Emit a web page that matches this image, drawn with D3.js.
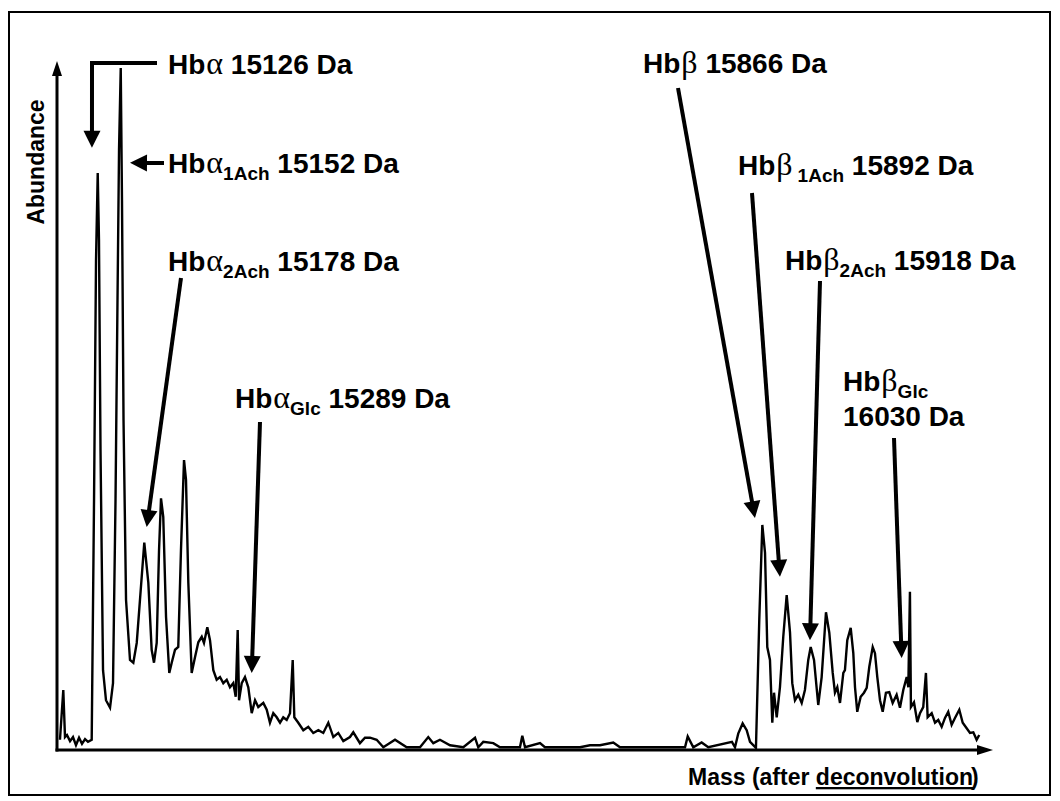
<!DOCTYPE html>
<html>
<head>
<meta charset="utf-8">
<script src="https://cdn.jsdelivr.net/npm/d3@7"></script>
<style>
  body { margin: 0; background: #fff; }
  svg { display: block; }
</style>
</head>
<body>
<div id="chart"></div>
<script>
// deconvoluted spectrum (mass in Da, abundance in % of the tallest peak)
const massAlpha = [15084.8, 15088.5, 15090.4, 15092.6, 15096.0, 15099.3, 15102.6, 15106.0, 15109.3, 15112.7,
  15116.0, 15120.1, 15122.7, 15124.9, 15126.8, 15128.2, 15129.9, 15132.7, 15136.0, 15140.5,
  15143.8, 15146.6, 15148.8, 15150.5, 15152.4, 15153.8, 15155.5, 15158.3, 15162.7, 15166.4,
  15170.2, 15173.8, 15178.6, 15183.1, 15186.8, 15189.4, 15192.4, 15195.0, 15197.2, 15199.7,
  15202.8, 15206.4, 15209.1, 15212.8, 15216.4, 15219.4, 15222.8, 15225.0, 15227.6, 15231.3,
  15235.0, 15238.7, 15242.5, 15245.0, 15248.7, 15251.7, 15255.4, 15259.1, 15262.8, 15266.5,
  15270.3, 15273.9, 15277.6, 15280.3, 15282.5, 15284.0, 15287.0, 15290.6, 15294.3, 15298.1,
  15301.8, 15305.4, 15311.0, 15314.8, 15318.4, 15322.1, 15325.9, 15329.6, 15333.2, 15337.0,
  15340.7, 15343.7, 15345.5, 15349.9, 15355.5, 15361.0, 15366.6, 15372.2, 15377.7, 15383.3,
  15388.9, 15394.4, 15400.0];
const abundAlpha = [1.5, 8.8, 1.9, 2.2, 1.3, 1.9, 0.7, 1.8, 0.9, 1.6,
  1.2, 1.5, 36.7, 71.8, 84.6, 74.8, 44.0, 11.7, 7.3, 6.2,
  9.8, 36.7, 66.0, 88.0, 100, 80.6, 48.4, 22.0, 13.2, 12.8,
  15.7, 22.0, 30.4, 24.5, 14.7, 12.8, 15.7, 29.3, 36.9, 34.2,
  19.5, 11.3, 12.8, 14.7, 15.1, 29.3, 42.5, 39.6, 24.5, 11.3,
  13.6, 15.8, 16.6, 15.7, 18.0, 16.1, 11.7, 10.3, 10.7, 9.8,
  10.3, 9.2, 9.8, 7.8, 17.6, 7.3, 9.8, 10.7, 9.2, 5.4,
  7.3, 6.3, 6.9, 5.9, 4.0, 5.4, 4.8, 4.0, 4.8, 4.4,
  5.4, 13.2, 4.8, 4.0, 2.9, 3.4, 2.5, 2.9, 2.5, 4.0,
  1.9, 2.5, 1.3];

const massMid = [15407.4, 15411.1, 15418.5, 15424.1, 15429.7, 15437.1, 15444.5, 15457.5, 15470.5, 15485.3,
  15494.5, 15500.1, 15507.5, 15518.7, 15533.5, 15546.5, 15550.1, 15555.7, 15566.8, 15574.3,
  15596.5, 15599.1, 15602.1, 15618.8, 15624.3, 15663.3, 15674.4, 15685.5, 15700.3, 15707.8,
  15780.1, 15783.1, 15789.3, 15798.6, 15806.0, 15832.3, 15835.7, 15839.3, 15844.2, 15848.7,
  15852.4];
const abundMid = [1.9, 2.6, 1.0, 1.8, 1.8, 1.5, 0.4, 1.5, 0.4, 0.4,
  1.9, 1.0, 1.5, 0.7, 0.4, 1.8, 0.4, 1.2, 1.0, 0.4,
  0.4, 2.1, 0.4, 1.0, 0.4, 0.4, 0.7, 0.7, 1.1, 0.4,
  0.4, 2.0, 0.4, 1.1, 0.4, 1.2, 0.4, 2.4, 3.9, 2.9,
  1.2];

const massBeta = [15859.0, 15862.7, 15866.1, 15869.1, 15871.6, 15874.6, 15877.2, 15879.1, 15882.1, 15885.7,
  15889.4, 15893.2, 15896.9, 15899.4, 15902.4, 15906.1, 15909.9, 15913.5, 15917.2, 15919.9,
  15923.6, 15928.3, 15932.1, 15936.9, 15940.6, 15944.4, 15946.9, 15949.5, 15952.5, 15956.2,
  15958.0, 15960.6, 15964.4, 15967.3, 15969.2, 15971.7, 15975.5, 15979.2, 15982.2, 15985.1,
  15988.9, 15991.4, 15994.0, 15997.0, 16000.0, 16003.6, 16007.3, 16011.1, 16015.5, 16019.2,
  16022.9, 16026.7, 16028.5, 16030.3, 16031.4, 16034.8, 16038.5, 16041.5, 16045.1, 16048.1,
  16050.0, 16054.5, 16058.2, 16061.8, 16065.6, 16069.3, 16072.9, 16076.7, 16080.4, 16085.2,
  16089.0, 16093.4, 16097.1, 16100.8, 16104.5, 16107.4];
const abundBeta = [0.3, 19.1, 33.0, 28.9, 15.1, 13.2, 4.0, 8.4, 4.8, 9.2,
  16.6, 22.7, 17.2, 9.8, 7.3, 8.1, 6.9, 8.8, 13.2, 15.1,
  13.2, 6.6, 10.7, 20.2, 17.2, 11.3, 8.4, 9.2, 6.9, 11.3,
  11.7, 16.1, 17.9, 14.2, 9.2, 5.6, 7.8, 8.4, 9.1, 12.2,
  15.1, 14.2, 10.7, 7.3, 5.6, 8.4, 8.5, 6.9, 8.1, 6.2,
  8.8, 10.7, 9.2, 23.2, 6.3, 7.0, 4.1, 5.4, 6.3, 11.3,
  4.8, 5.4, 4.0, 4.4, 3.4, 4.7, 5.6, 3.7, 4.7, 5.9,
  4.0, 3.2, 2.5, 2.6, 1.5, 2.2];

// peak annotations and where each arrow points (mass, abundance)
const peakNames = ["α", "α1Ach", "α2Ach", "αGlc", "β", "β1Ach", "β2Ach", "βGlc"];
const peakMassText = ["15126", "15152", "15178", "15289", "15866", "15892", "15918", "16030"];
const tipMass  = [15120.4, 15162.7, 15181.3, 15298.1, 15857.9, 15885.7, 15919.1, 16021.1];
const tipAbund = [88.3, 86.1, 32.7, 11.3, 34.0, 25.4, 16.1, 13.5];

const margin = {top: 61, right: 67, bottom: 51, left: 57};
const W = 1060, H = 801;

const svg = d3.select("#chart").append("svg")
  .attr("width", W).attr("height", H);

// outer frame
svg.append("rect")
  .attr("x", 9).attr("y", 12)
  .attr("width", 1041).attr("height", 783)
  .attr("fill", "none").attr("stroke", "#000").attr("stroke-width", 2);

const x = d3.scaleLinear()
  .domain([15081.5, 16122.7])
  .range([margin.left, W - margin.right]);
const y = d3.scaleLinear()
  .domain([0, 100])
  .range([H - margin.bottom, 68]);

const spectrum = [];
[[massAlpha, abundAlpha], [massMid, abundMid], [massBeta, abundBeta]].forEach(([ms, ab]) => {
  ms.forEach((m, i) => spectrum.push({mass: m, abund: ab[i]}));
});

// trace
svg.append("path")
  .datum(spectrum)
  .attr("fill", "none")
  .attr("stroke", "#000")
  .attr("stroke-width", 2.4)
  .attr("stroke-linejoin", "miter")
  .attr("d", d3.line().x(d => x(d.mass)).y(d => y(d.abund)));

// axes (plain arrows, no ticks)
const x0 = x.range()[0], y0 = y(0);
const xEnd = x.range()[1], yEnd = margin.top;
svg.append("line")
  .attr("x1", x0).attr("y1", y0 + 1.5).attr("x2", x0).attr("y2", yEnd + 12)
  .attr("stroke", "#000").attr("stroke-width", 3);
svg.append("path")
  .attr("d", `M${x0},${yEnd} L${x0 - 5},${yEnd + 15} L${x0 + 5},${yEnd + 15} Z`)
  .attr("fill", "#000");
svg.append("line")
  .attr("x1", x0 - 1.5).attr("y1", y0).attr("x2", xEnd - 12).attr("y2", y0)
  .attr("stroke", "#000").attr("stroke-width", 3);
svg.append("path")
  .attr("d", `M${xEnd},${y0} L${xEnd - 16},${y0 - 5} L${xEnd - 16},${y0 + 5} Z`)
  .attr("fill", "#000");

const sans = "'Liberation Sans', Arial, sans-serif";
const serif = "'Liberation Serif', 'Times New Roman', serif";

svg.append("text")
  .attr("transform", `translate(44,162) rotate(-90)`)
  .attr("text-anchor", "middle")
  .style("font-family", sans).style("font-weight", "bold").style("font-size", "23px")
  .text("Abundance");

const xt = svg.append("text")
  .attr("x", 688).attr("y", 785)
  .style("font-family", sans).style("font-weight", "bold").style("font-size", "23px");
xt.append("tspan").text("Mass (after ");
xt.append("tspan").style("text-decoration", "underline").text("deconvolution");
xt.append("tspan").attr("dx", -2).text(")");

// label layout (pixels) for each annotation, same order as peakNames
const labelPos = [
  {x: 168, y: 74, start: [157, 63], elbow: [92, 63]},
  {x: 168, y: 173, start: [164, 163]},
  {x: 168, y: 271, start: [181, 278]},
  {x: 235, y: 408, start: [260, 422]},
  {x: 643, y: 73, start: [678, 88]},
  {x: 738, y: 175, start: [752, 193], gap: 5},
  {x: 785, y: 270, start: [820, 281]},
  {x: 843, y: 391, start: [894, 438], wrap: true}
];

function arrowHead(tip, from) {
  const dx = tip[0] - from[0], dy = tip[1] - from[1];
  const len = Math.hypot(dx, dy), ux = dx / len, uy = dy / len;
  const hl = 17, hw = 8.5;
  const bx = tip[0] - ux * hl, by = tip[1] - uy * hl;
  return {
    base: [bx + ux * 1, by + uy * 1],
    d: `M${tip[0]},${tip[1]} L${bx - uy * hw},${by + ux * hw} L${bx + uy * hw},${by - ux * hw} Z`
  };
}

peakNames.forEach((name, i) => {
  const p = labelPos[i];
  const greek = name[0];
  const sub = name.slice(1);

  const t = svg.append("text")
    .attr("x", p.x).attr("y", p.y)
    .style("font-family", sans).style("font-weight", "bold").style("font-size", "28px");
  t.append("tspan").text("Hb");
  t.append("tspan").attr("dx", 1).style("font-family", serif).style("font-weight", "normal")
    .style("font-size", "32px").text(greek);
  if (sub) {
    t.append("tspan").attr("dy", 7).attr("dx", p.gap || 0)
      .style("font-size", "19px").text(sub);
  }
  if (p.wrap) {
    svg.append("text")
      .attr("x", p.x).attr("y", p.y + 35)
      .style("font-family", sans).style("font-weight", "bold").style("font-size", "28px")
      .text(peakMassText[i] + " Da");
  } else {
    t.append("tspan").attr("dy", sub ? -7 : 0).text(" " + peakMassText[i] + " Da");
  }

  // arrow
  const tip = [x(tipMass[i]), y(tipAbund[i])];
  const from = p.elbow || p.start;
  const head = arrowHead(tip, from);
  const pts = p.elbow ? [p.start, p.elbow, head.base] : [p.start, head.base];
  svg.append("path")
    .attr("d", d3.line()(pts))
    .attr("fill", "none").attr("stroke", "#000").attr("stroke-width", 4)
    .attr("stroke-linejoin", "miter");
  svg.append("path").attr("d", head.d).attr("fill", "#000");
});
</script>
</body>
</html>
